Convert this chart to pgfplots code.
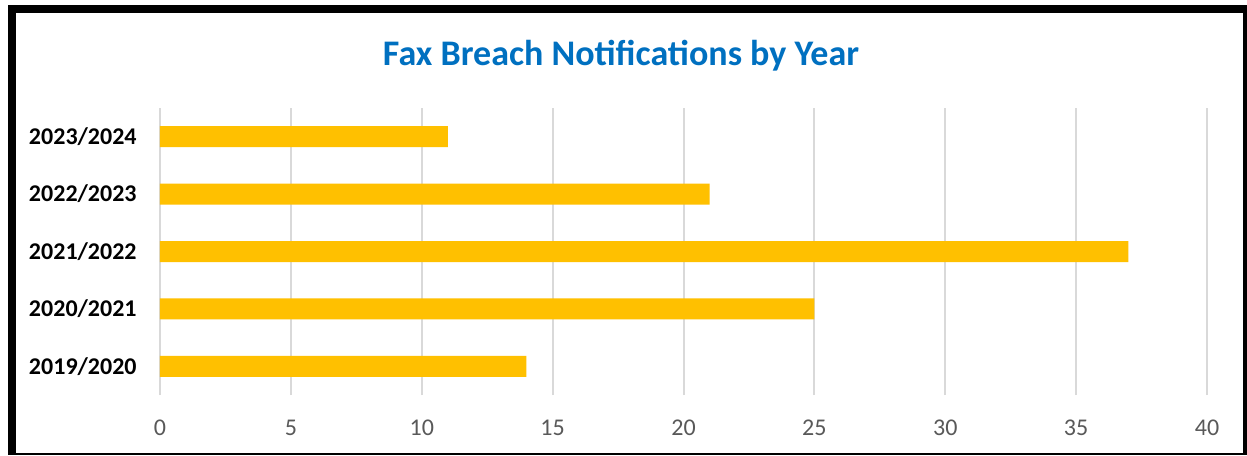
\documentclass[border=0pt]{standalone}
\usepackage{pgfplots}
\pgfplotsset{compat=1.18}
\usepackage{fontspec}
\setmainfont{Carlito}
\definecolor{barc}{RGB}{255,192,0}
\definecolor{titc}{RGB}{0,112,192}
\definecolor{tickc}{RGB}{89,89,89}
\definecolor{gridc}{RGB}{217,217,217}
\begin{document}
\begin{tikzpicture}
\useasboundingbox (0,0) rectangle (935.25pt,341.25pt);
\fill[white] (0,0) rectangle (935.25pt,341.25pt);
\begin{axis}[
  at={(120pt,45pt)}, anchor=south west,
  scale only axis, width=785.25pt, height=215.25pt,
  xbar, bar width=15.75pt,
  xmin=0, xmax=40, ymin=-0.5, ymax=4.5,
  xtick={0,5,...,40}, ytick={0,1,2,3,4},
  yticklabels={2019/2020,2020/2021,2021/2022,2022/2023,2023/2024},
  axis line style={draw=none}, major tick length=0pt,
  xmajorgrids, grid style={line width=1.5pt, gridc},
  /pgf/number format/assume math mode=true,
  xticklabel style={font=\fontsize{18}{20}\selectfont, text=tickc, yshift=-15pt},
  yticklabel style={font=\fontsize{18}{20}\selectfont\bfseries, text=black, xshift=-14pt},
]
\addplot[fill=barc, draw=none] coordinates {(14,0) (25,1) (37,2) (21,3) (11,4)};
\end{axis}
\node[font=\fontsize{27}{30}\selectfont\bfseries, text=titc] at (465.75pt,299.25pt) {Fax Breach Notifications by Year};
% frame
\fill[black] (6pt,0pt) rectangle (12pt,337.5pt);
\fill[black] (6pt,331.5pt) rectangle (935.25pt,337.5pt);
\fill[black] (932.25pt,0pt) rectangle (935.25pt,337.5pt);
\fill[black] (6pt,0pt) rectangle (935.25pt,1.5pt);
\end{tikzpicture}
\end{document}
